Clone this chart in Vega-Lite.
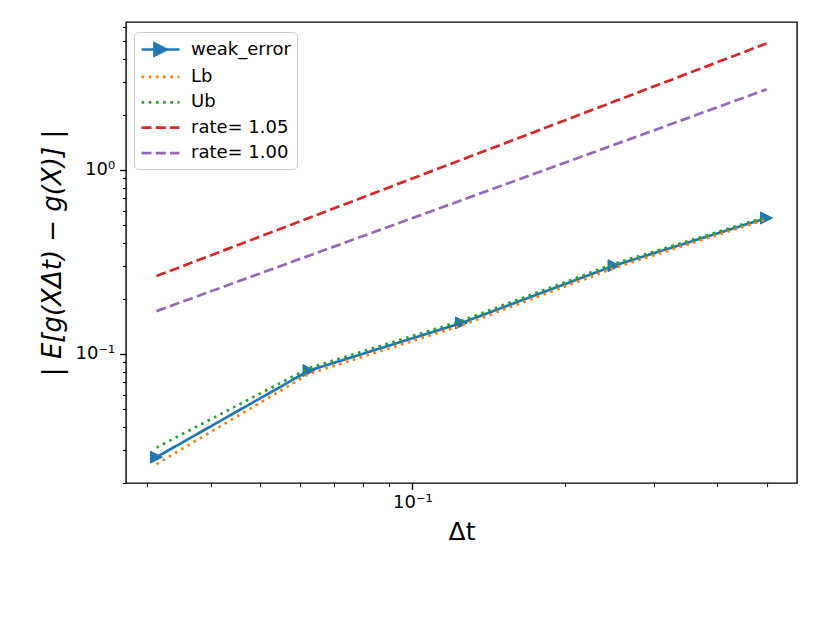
{
  "$schema": "https://vega.github.io/schema/vega-lite/v6.json",
  "width": 671,
  "height": 461,
  "autosize": "none",
  "padding": {"left": 126, "top": 22, "right": 33, "bottom": 139},
  "background": "white",
  "config": {
    "font": "DejaVu Sans",
    "view": {"stroke": "black", "strokeWidth": 1.4},
    "axis": {
      "grid": false,
      "domain": false,
      "tickColor": "black",
      "labelColor": "black",
      "titleColor": "black",
      "labelFont": "DejaVu Sans",
      "titleFont": "DejaVu Sans",
      "labelFontSize": 18,
      "titleFontSize": 25,
      "titleFontWeight": "normal",
      "labelOverlap": false,
      "labelFlush": false
    }
  },
  "data": {
    "values": [
      {"dt": 0.03125, "value": 0.0275, "series": "weak_error"},
      {"dt": 0.0625, "value": 0.0812, "series": "weak_error"},
      {"dt": 0.125, "value": 0.1474, "series": "weak_error"},
      {"dt": 0.25, "value": 0.302, "series": "weak_error"},
      {"dt": 0.5, "value": 0.548, "series": "weak_error"},
      {"dt": 0.03125, "value": 0.0252, "series": "Lb"},
      {"dt": 0.0625, "value": 0.0780, "series": "Lb"},
      {"dt": 0.125, "value": 0.1430, "series": "Lb"},
      {"dt": 0.25, "value": 0.293, "series": "Lb"},
      {"dt": 0.5, "value": 0.540, "series": "Lb"},
      {"dt": 0.03125, "value": 0.0310, "series": "Ub"},
      {"dt": 0.0625, "value": 0.0838, "series": "Ub"},
      {"dt": 0.125, "value": 0.1515, "series": "Ub"},
      {"dt": 0.25, "value": 0.309, "series": "Ub"},
      {"dt": 0.5, "value": 0.556, "series": "Ub"},
      {"dt": 0.03125, "value": 0.265, "series": "rate= 1.05"},
      {"dt": 0.5, "value": 4.87, "series": "rate= 1.05"},
      {"dt": 0.03125, "value": 0.171, "series": "rate= 1.00"},
      {"dt": 0.5, "value": 2.74, "series": "rate= 1.00"}
    ]
  },
  "encoding": {
    "x": {
      "field": "dt",
      "type": "quantitative",
      "scale": {"type": "log", "domain": [0.02721, 0.5743], "nice": false},
      "axis": {
        "title": "Δt",
        "values": [0.03, 0.04, 0.05, 0.06, 0.07, 0.08, 0.09, 0.1, 0.2, 0.3, 0.4, 0.5],
        "labelExpr": "datum.value == 0.1 ? '10⁻¹' : ''",
        "tickSize": {"condition": {"test": "datum.value == 0.1", "value": 6.3}, "value": 3.6},
        "tickWidth": {"condition": {"test": "datum.value == 0.1", "value": 1.4}, "value": 1.1},
        "labelPadding": 4,
        "titlePadding": 8
      }
    },
    "y": {
      "field": "value",
      "type": "quantitative",
      "scale": {"type": "log", "domain": [0.0199, 6.37], "nice": false},
      "axis": {
        "title": "| E[g(XΔt) − g(X)] |",
        "titleFontStyle": "italic",
        "titleFontSize": 26,
        "values": [0.02, 0.03, 0.04, 0.05, 0.06, 0.07, 0.08, 0.09, 0.1, 0.2, 0.3, 0.4, 0.5, 0.6, 0.7, 0.8, 0.9, 1, 2, 3, 4, 5, 6],
        "labelExpr": "datum.value == 1 ? '10⁰' : (datum.value == 0.1 ? '10⁻¹' : '')",
        "tickSize": {"condition": {"test": "datum.value == 0.1 || datum.value == 1", "value": 6.3}, "value": 3.6},
        "tickWidth": {"condition": {"test": "datum.value == 0.1 || datum.value == 1", "value": 1.4}, "value": 1.1},
        "labelPadding": 5,
        "titlePadding": 10
      }
    }
  },
  "layer": [
    {
      "transform": [{"filter": "datum.series == 'weak_error'"}],
      "mark": {"type": "line", "strokeWidth": 2.7},
      "encoding": {
        "color": {
          "field": "series",
          "type": "nominal",
          "scale": {
            "domain": ["weak_error", "Lb", "Ub", "rate= 1.05", "rate= 1.00"],
            "range": ["#1f77b4", "#ff7f0e", "#2ca02c", "#d62728", "#9467bd"]
          },
          "legend": {
            "title": null,
            "orient": "none",
            "legendX": 8,
            "legendY": 10,
            "strokeColor": "#cccccc",
            "fillColor": "rgba(255,255,255,0.8)",
            "cornerRadius": 4,
            "padding": 6,
            "labelFont": "DejaVu Sans",
            "labelFontSize": 18,
            "labelColor": "black",
            "symbolSize": 400,
            "symbolStrokeWidth": 2.7,
            "labelOffset": 28,
            "rowPadding": 4.4,
            "encode": {
              "symbols": {
                "update": {
                  "shape": {"signal": "datum.value == 'weak_error' ? 'M-1,0L2.8,0M0.3,-0.6L1.5,0L0.3,0.6Z' : 'M-1,0L2.8,0'"},
                  "fill": {"signal": "datum.value == 'weak_error' ? '#1f77b4' : 'transparent'"}
                }
              }
            }
          }
        },
        "strokeDash": {
          "field": "series",
          "type": "nominal",
          "scale": {
            "domain": ["weak_error", "Lb", "Ub", "rate= 1.05", "rate= 1.00"],
            "range": [[1, 0], [2.7, 4.5], [2.7, 4.5], [10, 4.3], [10, 4.3]]
          },
          "legend": {
            "title": null,
            "orient": "none",
            "legendX": 8,
            "legendY": 10
          }
        }
      }
    },
    {
      "transform": [{"filter": "datum.series == 'weak_error'"}],
      "mark": {
        "type": "point",
        "shape": "M-1,-1L1,0L-1,1Z",
        "size": 144,
        "filled": true,
        "opacity": 1,
        "color": "#1f77b4",
        "stroke": "#1f77b4",
        "strokeWidth": 1
      },
      "encoding": {}
    },
    {
      "transform": [{"filter": "datum.series != 'weak_error'"}],
      "mark": {"type": "line", "strokeWidth": 2.7},
      "encoding": {
        "color": {"field": "series", "type": "nominal"},
        "strokeDash": {"field": "series", "type": "nominal"}
      }
    }
  ]
}
